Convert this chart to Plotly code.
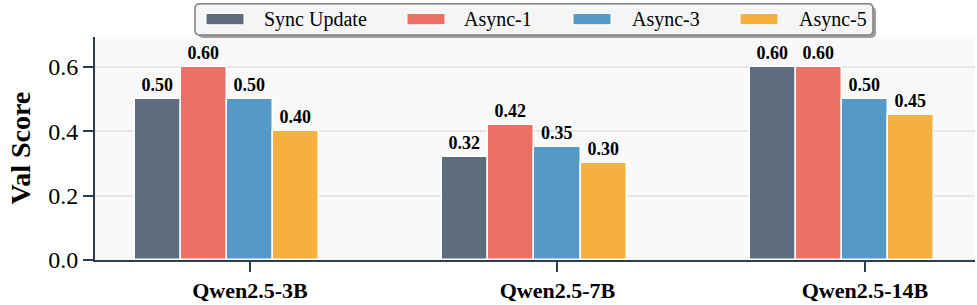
import plotly.graph_objects as go

categories = ["Qwen2.5-3B", "Qwen2.5-7B", "Qwen2.5-14B"]
series_names = ["Sync Update", "Async-1", "Async-3", "Async-5"]
sync_update = [0.50, 0.32, 0.60]
async_1 = [0.60, 0.42, 0.60]
async_3 = [0.50, 0.35, 0.50]
async_5 = [0.40, 0.30, 0.45]
y_ticks = [0.0, 0.2, 0.4, 0.6]

series_values = [sync_update, async_1, async_3, async_5]
colors = ["#5d6d7e", "#ec7063", "#5499c7", "#f5b041"]
bar_w = 0.15
offsets = [-2, -1, 0, 1]

W, H = 977, 305
L, R, T, B = 95, 2, 37, 40
pw = W - L - R
ph = H - T - B

def px(x):
    return (x - L) / pw

def py(y):
    return (H - B - y) / ph

serif = "Liberation Serif, Times New Roman, serif"
dark = "#2c3e50"

fig = go.Figure()
for name, vals, col, off in zip(series_names, series_values, colors, offsets):
    fig.add_trace(go.Bar(
        x=[i + off * bar_w for i in range(len(categories))],
        y=vals,
        width=bar_w,
        name=name,
        marker=dict(color=col, line=dict(color="white", width=1.5)),
        text=[f"{v:.2f}" for v in vals],
        textposition="outside",
        texttemplate="<b>%{text}</b>",
        textfont=dict(family=serif, size=18, color="black"),
        cliponaxis=False,
        showlegend=False,
    ))

shapes = []
annotations = []

def path_paper(x0, y0, x1, y1, r):
    def P(x, y):
        return f"{px(x):.5f},{py(y):.5f}"
    return (f"M {P(x0+r,y0)} L {P(x1-r,y0)} Q {P(x1,y0)} {P(x1,y0+r)} "
            f"L {P(x1,y1-r)} Q {P(x1,y1)} {P(x1-r,y1)} L {P(x0+r,y1)} "
            f"Q {P(x0,y1)} {P(x0,y1-r)} L {P(x0,y0+r)} Q {P(x0,y0)} {P(x0+r,y0)} Z")

shapes.append(dict(type="path", xref="paper", yref="paper",
                   path=path_paper(198, 6, 876, 38, 5),
                   fillcolor="#a0a0a0", line=dict(width=0), layer="above"))
shapes.append(dict(type="path", xref="paper", yref="paper",
                   path=path_paper(195, 3, 873, 35, 5),
                   fillcolor="#f5f5f5", line=dict(color="#808080", width=1.5), layer="above"))

sw_x = [206, 407, 573, 740]
tx_x = [262, 462, 630, 797]
for name, col, sx, tx in zip(series_names, colors, sw_x, tx_x):
    shapes.append(dict(type="rect", xref="paper", yref="paper",
                       x0=px(sx), x1=px(sx + 38), y0=py(24.5), y1=py(13),
                       fillcolor=col, line=dict(color="white", width=1), layer="above"))
    annotations.append(dict(text=name, xref="paper", yref="paper",
                            x=px(tx), y=py(19), xanchor="left", yanchor="middle",
                            showarrow=False,
                            font=dict(family=serif, size=20, color="black")))

annotations.append(dict(text="<b>Val Score</b>", xref="paper", yref="paper",
                        x=px(20), y=py(151), xanchor="center", yanchor="middle",
                        textangle=-90, showarrow=False,
                        font=dict(family=serif, size=28, color="black")))

fig.update_layout(
    width=W, height=H,
    margin=dict(l=L, r=R, t=T, b=B, pad=0),
    paper_bgcolor="white",
    plot_bgcolor="#f9f9f9",
    barmode="overlay",
    bargap=0,
    shapes=shapes,
    annotations=annotations,
    xaxis=dict(
        range=[-0.504, 2.358],
        tickmode="array",
        tickvals=list(range(len(categories))),
        ticktext=categories,
        tickfont=dict(family=serif, size=22, color="black", weight="bold"),
        ticks="outside", ticklen=10, tickwidth=2, tickcolor=dark,
        showline=True, linecolor=dark, linewidth=2,
        showgrid=False, zeroline=False,
    ),
    yaxis=dict(
        range=[0, 0.693],
        tickmode="array",
        tickvals=y_ticks,
        ticktext=[f"{v:.1f}" for v in y_ticks],
        tickfont=dict(family=serif, size=24, color="black"),
        ticks="outside", ticklen=10, tickwidth=2, tickcolor=dark,
        showline=True, linecolor=dark, linewidth=2,
        showgrid=True, gridcolor="#e6e6e6", gridwidth=1.5,
        zeroline=False,
    ),
)

fig.write_html("out.html")
